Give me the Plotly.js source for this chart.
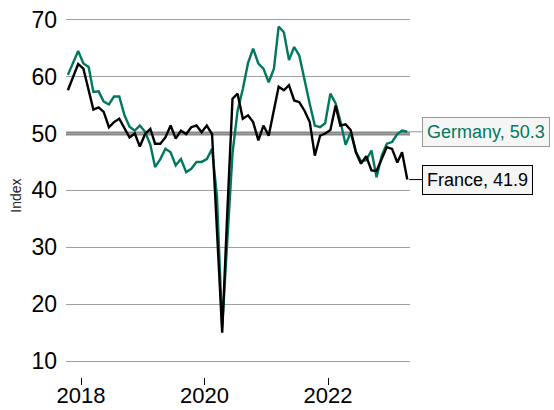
<!DOCTYPE html>
<html>
<head>
<meta charset="utf-8">
<script src="https://cdn.plot.ly/plotly-3.0.1.min.js"></script>
<style>html,body{margin:0;padding:0;background:#fff;}#chart{width:554px;height:410px;}</style>
</head>
<body>
<div id="chart"></div>
<script>
// Monthly observations, Oct 2017 .. Apr 2023 (plotted mid-month)
const startYear = 2017, startMonth = 10, monthCount = 67;
const germany = [
  60.3, 62.5, 64.5, 62.3, 61.7, 57.3, 57.4, 55.6, 55.1, 56.5,
  56.5, 53.2, 51.2, 50.5, 51.4, 50.3, 48.0, 44.1, 45.5, 47.3,
  46.7, 44.4, 45.5, 43.2, 43.8, 45.0, 45.0, 45.5, 47.3, 39.0,
  16.0, 31.0, 46.5, 54.0, 57.8, 62.4, 64.9, 62.3, 61.4, 59.0,
  61.4, 68.8, 67.8, 62.9, 65.2, 63.7, 59.3, 55.2, 51.4, 51.1,
  51.8, 57.0, 55.3, 52.2, 48.0, 50.2, 46.8, 45.1, 45.3, 47.0,
  42.3, 46.1, 48.2, 48.5, 49.9, 50.5, 50.3
];
const france = [
  57.6, 60.0, 62.2, 61.4, 57.6, 54.2, 54.6, 53.8, 51.1, 52.0,
  52.6, 50.8, 49.3, 50.0, 47.7, 49.9, 50.8, 48.2, 48.2, 49.3,
  51.4, 49.1, 50.5, 49.9, 51.1, 51.4, 50.2, 51.4, 49.9, 33.0,
  15.0, 36.0, 56.1, 57.0, 52.6, 53.2, 52.0, 48.8, 51.4, 49.6,
  54.0, 58.2, 57.6, 58.5, 55.8, 55.5, 54.0, 52.0, 46.1, 49.6,
  50.0, 50.6, 54.9, 51.4, 51.6, 50.6, 46.7, 44.7, 46.0, 43.5,
  43.4, 45.5, 47.6, 47.3, 44.9, 46.7, 41.9
];
const seriesNames = ['Germany', 'France'];
const xTickVals = ['2018-01-01', '2020-01-01', '2022-01-01'];
const xTickText = ['2018', '2020', '2022'];
const yTickVals = [10, 20, 30, 40, 50, 60, 70];
const referenceLevel = 50;

const dates = [];
for (let i = 0; i < monthCount; i++) {
  const m0 = startMonth - 1 + i;
  const y = startYear + Math.floor(m0 / 12);
  const m = (m0 % 12) + 1;
  dates.push(y + '-' + String(m).padStart(2, '0') + '-15');
}

const GREEN = '#00785f';
const FONT = 'Liberation Sans, Arial, sans-serif';
const lastDate = dates[dates.length - 1];

const traces = [
  {x: dates, y: germany, name: seriesNames[0], type: 'scatter', mode: 'lines',
   line: {color: GREEN, width: 2.4}},
  {x: dates, y: france, name: seriesNames[1], type: 'scatter', mode: 'lines',
   line: {color: '#000000', width: 2.4}}
];

const layout = {
  width: 554, height: 410,
  margin: {l: 66, r: 144, t: 14, b: 33},
  paper_bgcolor: '#ffffff', plot_bgcolor: '#ffffff',
  showlegend: false,
  font: {family: FONT, color: '#000'},
  xaxis: {
    type: 'date', range: ['2017-10-04', '2023-05-01'],
    tickvals: xTickVals, ticktext: xTickText,
    ticks: 'outside', ticklen: 7, tickwidth: 1, tickcolor: '#000',
    ticklabelstandoff: -8,
    showgrid: false, showline: false, zeroline: false,
    tickfont: {size: 22, family: FONT, color: '#000'}
  },
  yaxis: {
    range: [7.2, 71], tickvals: yTickVals,
    showgrid: true, gridcolor: '#a0a0a0', gridwidth: 1,
    zeroline: false, showline: false, ticks: '',
    ticklabelstandoff: 8,
    tickfont: {size: 23, family: FONT, color: '#000'},
    title: {text: 'Index', font: {size: 14, family: FONT, color: '#222'}, standoff: 6}
  },
  shapes: [{
    type: 'line', xref: 'paper', x0: 0, x1: 1, yref: 'y', y0: referenceLevel, y1: referenceLevel,
    line: {color: '#888888', width: 4}, layer: 'below'
  }],
  annotations: [
    {x: lastDate, y: germany[germany.length - 1], xref: 'x', yref: 'y',
     text: seriesNames[0] + ', ' + germany[germany.length - 1].toFixed(1),
     showarrow: true, arrowhead: 0, arrowwidth: 1, arrowcolor: '#999999', standoff: 2,
     ax: 15, ay: 0, xanchor: 'left', yanchor: 'middle',
     bgcolor: '#f5f5f5', bordercolor: '#999999', borderwidth: 1, borderpad: 4,
     font: {size: 18, family: FONT, color: GREEN}},
    {x: lastDate, y: france[france.length - 1], xref: 'x', yref: 'y',
     text: seriesNames[1] + ', ' + france[france.length - 1].toFixed(1),
     showarrow: true, arrowhead: 0, arrowwidth: 1, arrowcolor: '#000000', standoff: 2,
     ax: 15, ay: 0, xanchor: 'left', yanchor: 'middle',
     bgcolor: '#f5f5f5', bordercolor: '#000000', borderwidth: 1, borderpad: 4,
     font: {size: 18, family: FONT, color: '#000'}}
  ]
};

Plotly.newPlot('chart', traces, layout, {displayModeBar: false, staticPlot: true});
</script>
</body>
</html>
